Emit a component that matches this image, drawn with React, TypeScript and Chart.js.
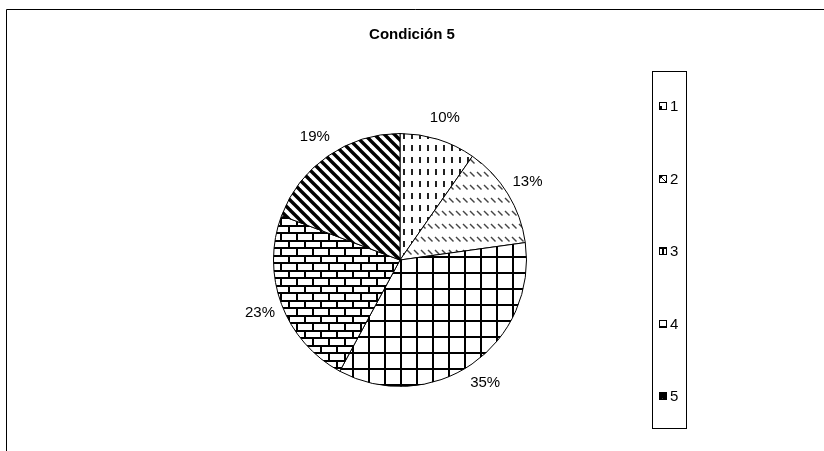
import React, { useEffect, useRef } from "react";
import { Chart, registerables } from "chart.js";

Chart.register(...registerables);

const chartTitle = "Condición 5";
const categories = ["1", "2", "3", "4", "5"];
const values = [9.7, 13.1, 35.1, 22.8, 19.3];

const W = 824;
const H = 451;
const FONT = "'Liberation Sans', Arial, sans-serif";
const LABEL_OFFSET = 23;

function tile(w: number, h: number, draw: (g: CanvasRenderingContext2D) => void): CanvasPattern {
  const c = document.createElement("canvas");
  c.width = w;
  c.height = h;
  const g = c.getContext("2d")!;
  g.fillStyle = "#fff";
  g.fillRect(0, 0, w, h);
  draw(g);
  const probe = document.createElement("canvas").getContext("2d")!;
  return probe.createPattern(c, "repeat")!;
}

function makePatterns(): CanvasPattern[] {
  const p1 = tile(8, 12, (g) => {
    g.fillStyle = "#222";
    g.fillRect(3, 1, 2, 6);
  });
  const p2 = tile(7, 13, (g) => {
    g.strokeStyle = "#444";
    g.lineWidth = 1.4;
    g.beginPath();
    g.moveTo(1, 3);
    g.lineTo(5.5, 7.5);
    g.stroke();
  });
  const p3 = tile(16, 16, (g) => {
    g.fillStyle = "#000";
    g.fillRect(0, 0, 16, 2);
    g.fillRect(0, 0, 2, 16);
  });
  const p4 = tile(16, 15, (g) => {
    g.fillStyle = "#000";
    g.fillRect(0, 0, 16, 2);
    g.fillRect(0, 7, 16, 2);
    g.fillRect(0, 2, 2, 5);
    g.fillRect(8, 9, 2, 6);
  });
  const p5 = tile(10, 10, (g) => {
    g.strokeStyle = "#000";
    g.lineWidth = 3.4;
    for (const k of [-10, 0, 10]) {
      g.beginPath();
      g.moveTo(k - 2, -2);
      g.lineTo(k + 12, 12);
      g.stroke();
    }
  });
  return [p1, p2, p3, p4, p5];
}

function drawSwatch(ctx: CanvasRenderingContext2D, i: number, x: number, y: number) {
  const s = 8;
  ctx.save();
  ctx.fillStyle = "#fff";
  ctx.fillRect(x, y, s, s);
  ctx.fillStyle = "#000";
  if (i === 0) {
    ctx.fillRect(x + 1, y + 4, 2, 3);
  } else if (i === 1) {
    ctx.beginPath();
    ctx.moveTo(x, y);
    ctx.lineTo(x + 5, y);
    ctx.lineTo(x, y + 5);
    ctx.closePath();
    ctx.fill();
    ctx.strokeStyle = "#000";
    ctx.lineWidth = 1;
    ctx.beginPath();
    ctx.moveTo(x, y);
    ctx.lineTo(x + s, y + s);
    ctx.stroke();
  } else if (i === 2) {
    ctx.fillRect(x, y, s, 2);
    ctx.fillRect(x + 3, y, 2, s);
  } else if (i === 3) {
    ctx.fillRect(x, y + s - 2, s, 2);
  } else {
    ctx.beginPath();
    ctx.moveTo(x, y);
    ctx.lineTo(x + s, y);
    ctx.lineTo(x + s, y + s);
    ctx.lineTo(x + 4, y + s);
    ctx.closePath();
    ctx.fill();
    ctx.fillRect(x, y, 3, s);
  }
  ctx.strokeStyle = "#000";
  ctx.lineWidth = 1;
  ctx.strokeRect(x + 0.5, y + 0.5, s - 1, s - 1);
  ctx.restore();
}

const decorPlugin = {
  id: "decor",
  beforeDraw(chart: any) {
    const ctx: CanvasRenderingContext2D = chart.ctx;
    ctx.save();
    ctx.fillStyle = "#fff";
    ctx.fillRect(0, 0, W, H);
    ctx.strokeStyle = "#000";
    ctx.lineWidth = 1;
    ctx.beginPath();
    ctx.moveTo(6.5, H);
    ctx.lineTo(6.5, 9.5);
    ctx.lineTo(W, 9.5);
    ctx.stroke();
    ctx.restore();
  },
  afterDatasetsDraw(chart: any) {
    const ctx: CanvasRenderingContext2D = chart.ctx;
    const meta = chart.getDatasetMeta(0);
    const total = values.reduce((a, b) => a + b, 0);
    ctx.save();
    ctx.fillStyle = "#000";
    ctx.textAlign = "center";
    ctx.textBaseline = "middle";
    ctx.font = `15px ${FONT}`;
    meta.data.forEach((arc: any, i: number) => {
      const p = arc.getProps(["x", "y", "startAngle", "endAngle", "outerRadius"], true);
      const mid = (p.startAngle + p.endAngle) / 2;
      const r = p.outerRadius + LABEL_OFFSET;
      ctx.fillText(
        Math.round((values[i] / total) * 100) + "%",
        p.x + Math.cos(mid) * r,
        p.y + Math.sin(mid) * r
      );
    });

    // title
    ctx.font = `bold 15px ${FONT}`;
    ctx.fillText(chartTitle, 412, 35);

    // legend
    const lx = 652.5, ly = 71.5, lw = 34, lh = 357;
    ctx.strokeStyle = "#000";
    ctx.lineWidth = 1;
    ctx.strokeRect(lx, ly, lw, lh);
    ctx.textAlign = "left";
    ctx.font = `15px ${FONT}`;
    categories.forEach((c, i) => {
      const cy = 106 + i * 72.5;
      drawSwatch(ctx, i, 659, Math.round(cy - 4));
      ctx.fillText(c, 670, cy + 1);
    });
    ctx.restore();
  },
};

export default function App() {
  const ref = useRef<HTMLCanvasElement | null>(null);
  useEffect(() => {
    if (!ref.current) return;
    const patterns = makePatterns();
    const chart = new Chart(ref.current, {
      type: "pie",
      data: {
        labels: categories,
        datasets: [
          {
            data: values,
            backgroundColor: patterns as any,
            borderColor: "#000",
            borderWidth: 1,
          },
        ],
      },
      options: {
        responsive: false,
        animation: false,
        devicePixelRatio: 1,
        events: [],
        layout: { padding: { left: 273, right: W - 527, top: 133, bottom: H - 387 } },
        plugins: {
          legend: { display: false },
          title: { display: false },
          tooltip: { enabled: false },
        },
      },
      plugins: [decorPlugin],
    });
    return () => chart.destroy();
  }, []);
  return (
    <div style={{ position: "absolute", left: 0, top: 0, width: W, height: H, background: "#fff" }}>
      <canvas ref={ref} width={W} height={H} style={{ display: "block", width: W, height: H }} />
    </div>
  );
}
